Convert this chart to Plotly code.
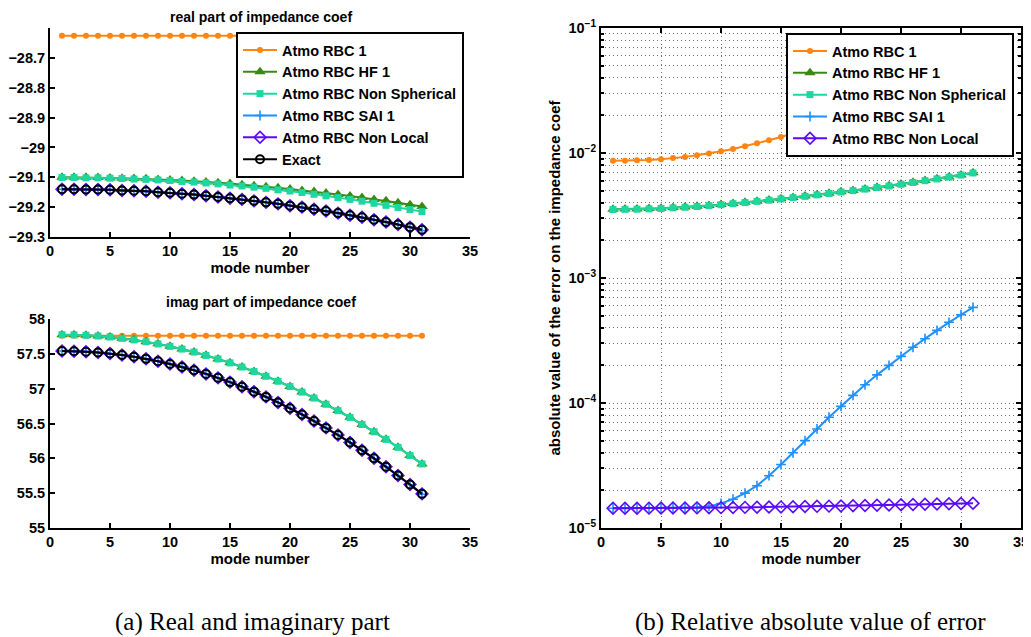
import plotly.graph_objects as go

# ---------------- data ----------------
mode = list(range(1, 32))

real_rbc1 = [-28.626, -28.626, -28.626, -28.626, -28.626, -28.626, -28.626, -28.626, -28.626, -28.626,
             -28.626, -28.626, -28.626, -28.626, -28.626, -28.626, -28.626, -28.626, -28.626, -28.626,
             -28.626, -28.626, -28.626, -28.626, -28.626, -28.626, -28.626, -28.626, -28.626, -28.626, -28.626]
real_hf1 = [-29.100, -29.100, -29.100, -29.101, -29.102, -29.103, -29.104, -29.105, -29.107, -29.109,
            -29.111, -29.113, -29.116, -29.118, -29.121, -29.125, -29.128, -29.132, -29.135, -29.139,
            -29.144, -29.148, -29.153, -29.158, -29.163, -29.168, -29.174, -29.179, -29.185, -29.192, -29.198]
real_nonsph = [-29.101, -29.101, -29.102, -29.102, -29.103, -29.104, -29.106, -29.107, -29.109, -29.111,
               -29.114, -29.116, -29.119, -29.122, -29.126, -29.129, -29.133, -29.137, -29.142, -29.146,
               -29.151, -29.157, -29.162, -29.168, -29.174, -29.180, -29.187, -29.194, -29.201, -29.208, -29.215]
real_sai1 = [-29.140, -29.140, -29.141, -29.141, -29.142, -29.144, -29.145, -29.147, -29.150, -29.152,
             -29.155, -29.158, -29.162, -29.166, -29.170, -29.174, -29.179, -29.184, -29.189, -29.195,
             -29.201, -29.208, -29.214, -29.221, -29.228, -29.235, -29.243, -29.251, -29.259, -29.268, -29.278]
real_nonloc = [-29.140, -29.140, -29.141, -29.141, -29.142, -29.144, -29.145, -29.147, -29.150, -29.152,
               -29.155, -29.158, -29.162, -29.166, -29.170, -29.174, -29.179, -29.184, -29.189, -29.195,
               -29.200, -29.207, -29.213, -29.220, -29.227, -29.234, -29.242, -29.250, -29.258, -29.267, -29.276]
real_exact = [-29.140, -29.140, -29.141, -29.141, -29.142, -29.144, -29.145, -29.147, -29.150, -29.152,
              -29.155, -29.158, -29.162, -29.166, -29.170, -29.174, -29.179, -29.184, -29.189, -29.195,
              -29.200, -29.207, -29.213, -29.220, -29.227, -29.234, -29.242, -29.250, -29.258, -29.267, -29.276]

imag_rbc1 = [57.76, 57.76, 57.76, 57.76, 57.76, 57.76, 57.76, 57.76, 57.76, 57.76,
             57.76, 57.76, 57.76, 57.76, 57.76, 57.76, 57.76, 57.76, 57.76, 57.76,
             57.76, 57.76, 57.76, 57.76, 57.76, 57.76, 57.76, 57.76, 57.76, 57.76, 57.76]
imag_hf1 = [57.775, 57.773, 57.767, 57.756, 57.742, 57.723, 57.701, 57.674, 57.643, 57.608,
            57.569, 57.526, 57.478, 57.427, 57.371, 57.311, 57.247, 57.179, 57.107, 57.031,
            56.951, 56.866, 56.777, 56.685, 56.588, 56.487, 56.382, 56.273, 56.159, 56.042, 55.920]
imag_nonsph = [57.774, 57.772, 57.766, 57.755, 57.741, 57.722, 57.700, 57.673, 57.642, 57.607,
               57.568, 57.525, 57.477, 57.426, 57.370, 57.310, 57.246, 57.178, 57.106, 57.030,
               56.950, 56.865, 56.776, 56.684, 56.587, 56.486, 56.381, 56.272, 56.158, 56.041, 55.919]
imag_sai1 = [57.540, 57.538, 57.531, 57.520, 57.504, 57.483, 57.458, 57.428, 57.394, 57.355,
             57.312, 57.264, 57.212, 57.155, 57.094, 57.027, 56.957, 56.882, 56.802, 56.718,
             56.629, 56.535, 56.437, 56.334, 56.227, 56.115, 55.998, 55.877, 55.751, 55.620, 55.485]
imag_nonloc = [57.540, 57.538, 57.531, 57.520, 57.504, 57.483, 57.458, 57.428, 57.394, 57.355,
               57.312, 57.264, 57.212, 57.155, 57.094, 57.027, 56.957, 56.882, 56.802, 56.718,
               56.629, 56.535, 56.437, 56.335, 56.228, 56.116, 56.000, 55.879, 55.754, 55.624, 55.490]
imag_exact = [57.540, 57.538, 57.531, 57.520, 57.504, 57.483, 57.458, 57.428, 57.394, 57.355,
              57.312, 57.264, 57.212, 57.155, 57.094, 57.027, 56.957, 56.882, 56.802, 56.718,
              56.629, 56.535, 56.437, 56.335, 56.228, 56.116, 56.000, 55.879, 55.754, 55.624, 55.490]

err_rbc1 = [0.00867, 0.00868, 0.00874, 0.00881, 0.00893, 0.00910, 0.00931, 0.00959, 0.00992, 0.01032,
            0.01078, 0.01132, 0.01194, 0.01264, 0.01341, 0.01429, 0.01524, 0.01627, 0.01740, 0.01861,
            0.01990, 0.02131, 0.02278, 0.02434, 0.02599, 0.02772, 0.02955, 0.03146, 0.03344, 0.03553, 0.03763]
err_hf1 = [0.00355, 0.00356, 0.00357, 0.00359, 0.00362, 0.00366, 0.00370, 0.00375, 0.00381, 0.00388,
           0.00395, 0.00403, 0.00412, 0.00421, 0.00431, 0.00441, 0.00452, 0.00464, 0.00476, 0.00489,
           0.00502, 0.00516, 0.00531, 0.00546, 0.00564, 0.00583, 0.00602, 0.00622, 0.00643, 0.00668, 0.00695]
err_nonsph = [0.00353, 0.00354, 0.00355, 0.00357, 0.00360, 0.00364, 0.00368, 0.00373, 0.00379, 0.00386,
              0.00393, 0.00401, 0.00410, 0.00419, 0.00429, 0.00439, 0.00450, 0.00462, 0.00474, 0.00487,
              0.00500, 0.00514, 0.00529, 0.00544, 0.00562, 0.00581, 0.00600, 0.00620, 0.00641, 0.00666, 0.00692]
err_sai1 = [1.440e-5, 1.440e-5, 1.441e-5, 1.442e-5, 1.443e-5, 1.445e-5, 1.447e-5, 1.46e-5, 1.49e-5, 1.57e-5,
            1.70e-5, 1.90e-5, 2.18e-5, 2.62e-5, 3.22e-5, 4.0e-5, 5.0e-5, 6.2e-5, 7.7e-5, 9.4e-5,
            1.15e-4, 1.40e-4, 1.68e-4, 2.00e-4, 2.36e-4, 2.79e-4, 3.27e-4, 3.81e-4, 4.42e-4, 5.08e-4, 5.82e-4]
err_nonloc = [1.440e-5, 1.440e-5, 1.441e-5, 1.442e-5, 1.443e-5, 1.445e-5, 1.447e-5, 1.449e-5, 1.452e-5, 1.455e-5,
              1.458e-5, 1.462e-5, 1.466e-5, 1.470e-5, 1.475e-5, 1.480e-5, 1.485e-5, 1.490e-5, 1.496e-5, 1.502e-5,
              1.508e-5, 1.514e-5, 1.520e-5, 1.527e-5, 1.534e-5, 1.541e-5, 1.548e-5, 1.555e-5, 1.562e-5, 1.568e-5, 1.575e-5]

names = ["Atmo RBC 1", "Atmo RBC HF 1", "Atmo RBC Non Spherical", "Atmo RBC SAI 1", "Atmo RBC Non Local", "Exact"]

x_ticks = [0, 5, 10, 15, 20, 25, 30, 35]
x_ticklabels = ["0", "5", "10", "15", "20", "25", "30", "35"]
real_ticks = [-29.3, -29.2, -29.1, -29.0, -28.9, -28.8, -28.7]
real_ticklabels = ["\u221229.3", "\u221229.2", "\u221229.1", "\u221229", "\u221228.9", "\u221228.8", "\u221228.7"]
imag_ticks = [55, 55.5, 56, 56.5, 57, 57.5, 58]
imag_ticklabels = ["55", "55.5", "56", "56.5", "57", "57.5", "58"]
err_ticks = [1e-5, 1e-4, 1e-3, 1e-2, 1e-1]
err_ticklabels = ["10<sup>\u22125</sup>", "10<sup>\u22124</sup>", "10<sup>\u22123</sup>",
                  "10<sup>\u22122</sup>", "10<sup>\u22121</sup>"]
err_minor = [m * 10.0 ** e for e in (-5, -4, -3, -2) for m in range(2, 10)]


def bold(labels):
    return ["<b>" + t + "</b>" for t in labels]


# ---------------- styles ----------------
colors = ["#FF8412", "#3A8A12", "#1ED6A0", "#1E90FF", "#5A0AFF", "#000000"]
markers = [
    dict(symbol="circle", size=6),
    dict(symbol="triangle-up", size=10),
    dict(symbol="square", size=7),
    dict(symbol="cross-thin", size=7, line=dict(width=1.6, color=colors[3])),
    dict(symbol="diamond-open", size=9, line=dict(width=1.6, color=colors[4])),
    dict(symbol="circle-open", size=8, line=dict(width=2, color=colors[5])),
]

real_series = [real_rbc1, real_hf1, real_nonsph, real_sai1, real_nonloc, real_exact]
imag_series = [imag_rbc1, imag_hf1, imag_nonsph, imag_sai1, imag_nonloc, imag_exact]
err_series = [err_rbc1, err_hf1, err_nonsph, err_sai1, err_nonloc]

fig = go.Figure()
for i in range(6):
    fig.add_trace(go.Scatter(x=mode, y=real_series[i], name=names[i], mode="lines+markers",
                             line=dict(color=colors[i], width=2), marker=dict(color=colors[i], **markers[i]),
                             xaxis="x", yaxis="y", legend="legend"))
for i in range(6):
    fig.add_trace(go.Scatter(x=mode, y=imag_series[i], name=names[i], mode="lines+markers",
                             line=dict(color=colors[i], width=2), marker=dict(color=colors[i], **markers[i]),
                             xaxis="x2", yaxis="y2", showlegend=False))
for i in range(5):
    fig.add_trace(go.Scatter(x=mode, y=err_series[i], name=names[i], mode="lines+markers",
                             line=dict(color=colors[i], width=2), marker=dict(color=colors[i], **markers[i]),
                             xaxis="x3", yaxis="y3", legend="legend2"))

# The page body has an 8px margin, so the figure is drawn 8px smaller and
# positions below are given in window pixels.
OFF = 8
W, H = 1031 - OFF, 637 - OFF


def fx(px):
    return (px - OFF) / W


def fy(py):
    return 1 - (py - OFF) / H


def px_x(a, b):
    return [fx(a), fx(b)]


def px_y(top, bottom):
    return [fy(bottom), fy(top)]


FAM = "Liberation Sans"
tickfont = dict(family=FAM, size=14.5, color="black")
titlefont = dict(family=FAM, size=15, color="black")

left_x = dict(range=[0, 35], tickmode="array", tickvals=x_ticks, ticktext=bold(x_ticklabels), ticks="inside",
              ticklen=5, tickwidth=1.5, tickcolor="black", showline=True, linecolor="black", linewidth=2,
              showgrid=False, zeroline=False, tickfont=tickfont, automargin=False,
              title=dict(text="<b>mode number</b>", font=titlefont, standoff=0))
left_y = dict(ticks="inside", ticklen=5, tickwidth=1.5, tickcolor="black", showline=True, linecolor="black",
              linewidth=2, showgrid=False, zeroline=False, tickfont=tickfont, tickmode="array", automargin=False)

gridc = "#6f6f6f"
gdash = "1px,3px"
fig.update_layout(
    width=W, height=H,
    margin=dict(l=0, r=0, t=0, b=0),
    paper_bgcolor="white", plot_bgcolor="white",
    font=dict(family=FAM, color="black"),
    xaxis=dict(domain=px_x(50, 470), anchor="y", **left_x),
    yaxis=dict(domain=px_y(28, 237), anchor="x", range=[-29.3, -28.6], tickvals=real_ticks,
               ticktext=bold(real_ticklabels), **left_y),
    xaxis2=dict(domain=px_x(50, 470), anchor="y2", **left_x),
    yaxis2=dict(domain=px_y(319, 528), anchor="x2", range=[55, 58], tickvals=imag_ticks,
                ticktext=bold(imag_ticklabels), **left_y),
    xaxis3=dict(domain=px_x(601, 1021), anchor="y3", range=[0, 35], tickmode="array", tickvals=x_ticks,
                ticktext=bold(x_ticklabels), ticks="inside", ticklen=5, tickwidth=1.5, tickcolor="black",
                showline=True, mirror="allticks", linecolor="black", linewidth=2, showgrid=True,
                gridcolor=gridc, griddash=gdash, gridwidth=1, zeroline=False, tickfont=tickfont,
                automargin=False, title=dict(text="<b>mode number</b>", font=titlefont, standoff=0)),
    yaxis3=dict(domain=px_y(28, 528), anchor="x3", type="log", range=[-5, -1], tickmode="array",
                tickvals=err_ticks, ticktext=bold(err_ticklabels), ticks="inside", ticklen=5, tickwidth=1.5,
                tickcolor="black", showline=True, mirror="allticks", linecolor="black", linewidth=2,
                showgrid=True, gridcolor=gridc, griddash=gdash, gridwidth=1, zeroline=False, tickfont=tickfont,
                automargin=False,
                minor=dict(tickmode="array", tickvals=err_minor, ticks="inside", ticklen=3, tickcolor="black",
                           showgrid=True, gridcolor=gridc, griddash=gdash, gridwidth=1),
                title=dict(text="<b>absolute value of the error on the impedance coef</b>", font=titlefont,
                           standoff=4)),
    legend=dict(x=fx(236), y=fy(32), xanchor="left", yanchor="top", bgcolor="white",
                bordercolor="black", borderwidth=2, font=dict(family=FAM, size=14.5, weight="bold"),
                itemwidth=34, tracegroupgap=0),
    legend2=dict(x=fx(786), y=fy(33), xanchor="left", yanchor="top", bgcolor="white",
                 bordercolor="black", borderwidth=2, font=dict(family=FAM, size=14.5, weight="bold"),
                 itemwidth=34, tracegroupgap=0),
    annotations=[
        dict(text="<b>real part of impedance coef</b>", x=fx(261), y=fy(17), xref="paper", yref="paper",
             xanchor="center", yanchor="middle", showarrow=False, font=dict(family=FAM, size=14)),
        dict(text="<b>imag part of impedance coef</b>", x=fx(261), y=fy(302), xref="paper", yref="paper",
             xanchor="center", yanchor="middle", showarrow=False, font=dict(family=FAM, size=14)),
        dict(text="(a) Real and imaginary part", x=fx(252), y=fy(622), xref="paper", yref="paper",
             xanchor="center", yanchor="middle", showarrow=False, font=dict(family="Liberation Serif", size=25)),
        dict(text="(b) Relative absolute value of error", x=fx(810), y=fy(622), xref="paper", yref="paper",
             xanchor="center", yanchor="middle", showarrow=False, font=dict(family="Liberation Serif", size=25)),
    ],
)

fig.write_html("out.html")
